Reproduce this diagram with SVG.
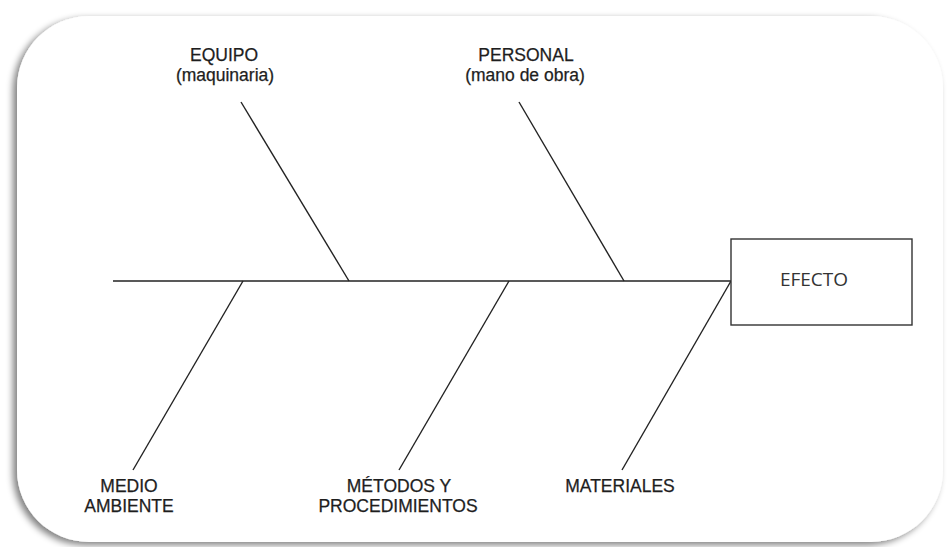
<svg xmlns="http://www.w3.org/2000/svg" width="949" height="547" viewBox="0 0 949 547">
<defs>
<filter id="sh" x="-5%" y="-5%" width="110%" height="110%">
<feGaussianBlur in="SourceAlpha" stdDeviation="3.5"/>
<feOffset dx="-4" dy="3" result="b"/>
<feComponentTransfer><feFuncA type="linear" slope="0.5"/></feComponentTransfer>
<feMerge><feMergeNode/><feMergeNode in="SourceGraphic"/></feMerge>
</filter>
</defs>
<style>
.ln{stroke:#222;stroke-width:1.4;fill:none}
.t{font-family:"Liberation Sans",Arial,sans-serif;font-size:17.5px;fill:#1e1e1e;stroke:#1e1e1e;stroke-width:0.25;text-anchor:middle}
.e{font-family:"Open Sans","Noto Sans",sans-serif;font-size:19px;fill:#333;text-anchor:middle}
</style>
<rect width="949" height="547" fill="#fff"/>
<rect x="17" y="16" width="926" height="526" rx="72" ry="72" fill="#fff" filter="url(#sh)"/>
<g id="connectors">
<line class="ln" x1="113" y1="281" x2="731" y2="281"/>
<line class="ln" x1="241" y1="102" x2="349" y2="281"/>
<line class="ln" x1="519" y1="102" x2="624" y2="281"/>
<line class="ln" x1="243" y1="281" x2="133" y2="470"/>
<line class="ln" x1="509" y1="281" x2="399" y2="470"/>
<line class="ln" x1="731" y1="281" x2="622" y2="470"/>
</g>
<g id="efecto">
<rect x="731" y="239" width="181" height="86" fill="#fff" stroke="#333" stroke-width="1.4"/>
<text class="e" x="814" y="286">EFECTO</text>
</g>
<g id="equipo">
<text class="t" x="224" y="61">EQUIPO</text>
<text class="t" x="225" y="81">(maquinaria)</text>
</g>
<g id="personal">
<text class="t" x="526" y="61">PERSONAL</text>
<text class="t" x="525" y="81">(mano de obra)</text>
</g>
<g id="medio">
<text class="t" x="129" y="492">MEDIO</text>
<text class="t" x="129" y="512">AMBIENTE</text>
</g>
<g id="metodos">
<text class="t" x="399" y="492">MÉTODOS Y</text>
<text class="t" x="398" y="512">PROCEDIMIENTOS</text>
</g>
<g id="materiales">
<text class="t" x="620" y="492">MATERIALES</text>
</g>
</svg>
